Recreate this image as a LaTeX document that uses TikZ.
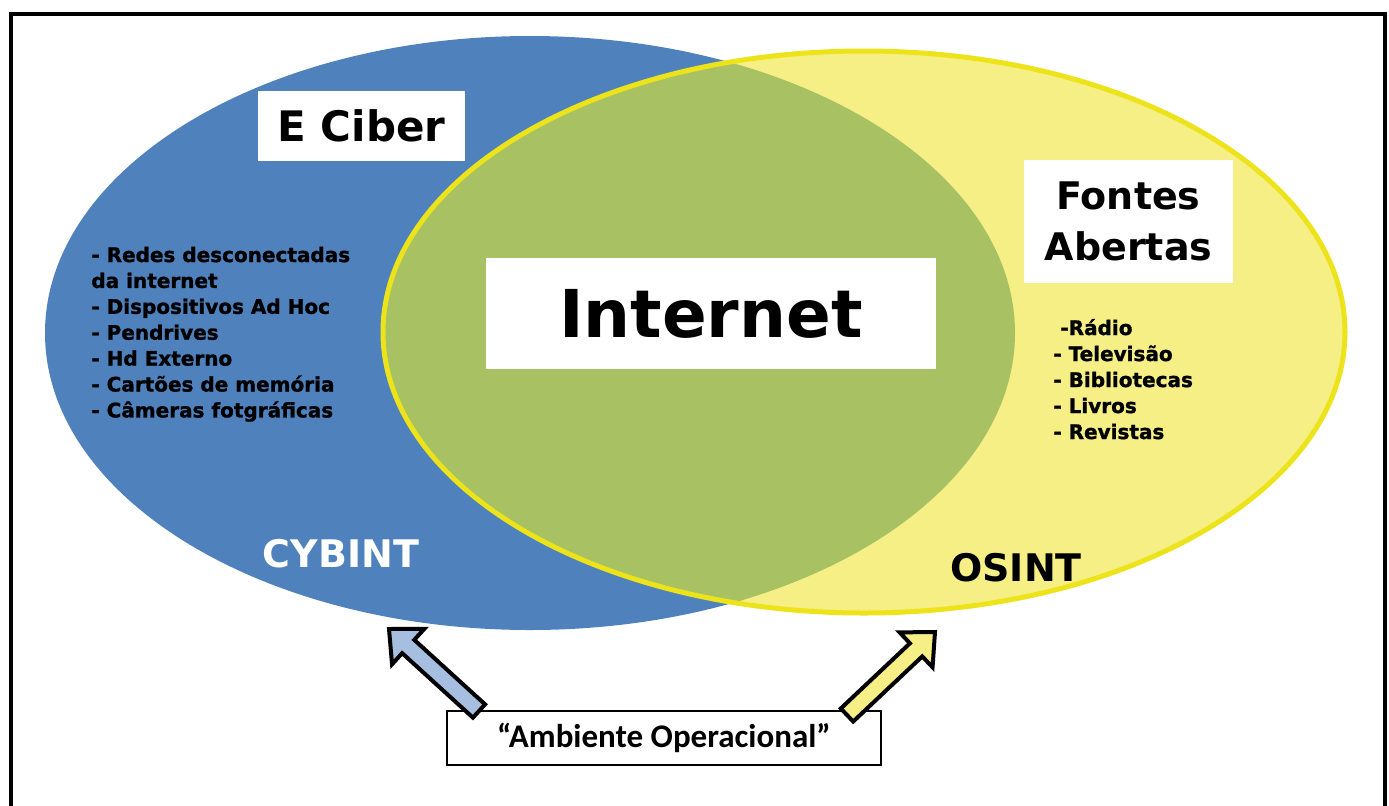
\documentclass[tikz,border=0pt]{standalone}
\usepackage{fontspec}
\setmainfont{DejaVu Sans}
\newfontfamily\calfont{Carlito}
\newfontfamily\heavyfont[FakeBold=1.3]{DejaVu Sans Bold}
\usetikzlibrary{calc,positioning}

\definecolor{cybblue}{HTML}{4F81BD}
\definecolor{osyellow}{HTML}{F5EF86}
\definecolor{osline}{HTML}{EDE31A}
\definecolor{netgreen}{HTML}{A8C162}
\definecolor{arrowblue}{HTML}{A6BEDF}

\tikzset{
	labelbox/.style={fill=white, inner sep=0pt, font=\bfseries},
	listitem/.style={anchor=base west, inner sep=0pt, font=\heavyfont\fontsize{10}{12}\selectfont},
	bigarrow/.style={draw=black, line width=2pt, line join=miter},
}

% block arrow from #1 (tail) to #2 (tip), filled with #3
\newcommand{\blockarrow}[3]{%
	\coordinate (#1-hb) at ($(#2)!13pt!(#1)$);
	\draw[bigarrow, fill=#3]
		($(#1)!4.5pt!90:(#2)$) -- ($(#1-hb)!4.5pt!90:(#2)$) -- ($(#1-hb)!12pt!90:(#2)$)
		-- (#2) -- ($(#1-hb)!12pt!-90:(#2)$) -- ($(#1-hb)!4.5pt!-90:(#2)$)
		-- ($(#1)!4.5pt!-90:(#2)$) -- cycle;
}

\begin{document}
\begin{tikzpicture}[x=0.5pt, y=-0.5pt]
	\useasboundingbox (0,0) rectangle (1389,805);
	% frame
	\draw[line width=2pt] (11,812) -- (11,13.5) -- (1385,13.5) -- (1385,812);

	% the two sets
	\fill[cybblue] (530,333) ellipse [x radius=485, y radius=297];
	\fill[osyellow] (864,332) ellipse [x radius=481, y radius=281];
	\begin{scope}
		\clip (530,333) ellipse [x radius=485, y radius=297];
		\fill[netgreen] (864,332) ellipse [x radius=481, y radius=281];
	\end{scope}
	\draw[osline, line width=2.5pt] (864,332) ellipse [x radius=481, y radius=281];

	% titles
	\node[labelbox, minimum width=103.5pt, minimum height=35pt, font=\bfseries\fontsize{21}{25}\selectfont] (eciber) at (361.5,125.5) {E Ciber};
	\node[labelbox, minimum width=104.5pt, minimum height=61.5pt, align=center, font=\bfseries\fontsize{19}{25.5}\selectfont] (fontes) at (1128.5,221.5) {Fontes\\Abertas};
	\node[labelbox, minimum width=225pt, minimum height=55.5pt, font=\bfseries\fontsize{33}{38}\selectfont] (internet) at (711,313.5) {Internet};
	\node[font=\bfseries\fontsize{19}{23}\selectfont, text=white] (cybint) at (341,554) {CYBINT};
	\node[font=\bfseries\fontsize{19}{23}\selectfont] (osint) at (1016,568) {OSINT};

	% lists
	\foreach \entry [count=\i from 0] in {- Redes desconectadas, da internet, - Dispositivos Ad Hoc, - Pendrives, - Hd Externo, - Cartões de memória, - Câmeras fotgráficas}
		\node[listitem] (cyb\i) at (91,262+25.9*\i) {\entry};
	\foreach \xpos/\entry [count=\i from 0] in {1060/-Rádio, 1053/- Televisão, 1053/- Bibliotecas, 1053/- Livros, 1053/- Revistas}
		\node[listitem] (os\i) at (\xpos,335+26*\i) {\entry};

	% operational environment
	\node[draw, line width=1pt, minimum width=217pt, minimum height=27pt, font=\calfont\bfseries\fontsize{16.5}{20}\selectfont] (amb) at (664,738) {“Ambiente Operacional”};

	\coordinate (cybtail) at ($(amb.north west)+(33,1)$);
	\coordinate (cybtip) at (389,629);
	\coordinate (ostail) at ($(amb.north east)+(-35,5)$);
	\coordinate (ostip) at (935,632);
	\blockarrow{cybtail}{cybtip}{arrowblue}
	\blockarrow{ostail}{ostip}{osyellow}
\end{tikzpicture}
\end{document}
